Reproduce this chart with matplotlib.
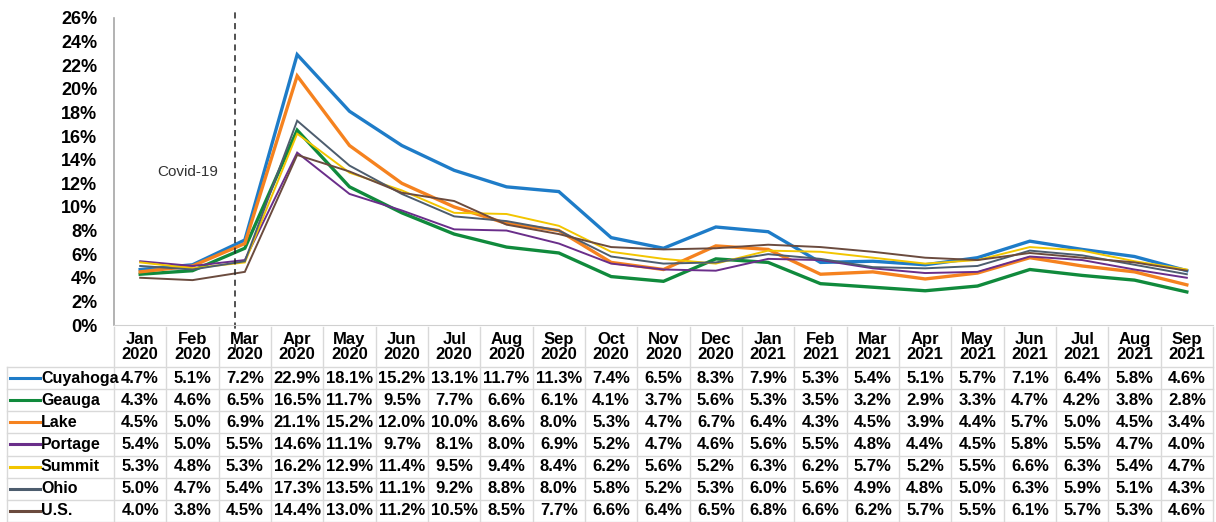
import numpy as np
import matplotlib
matplotlib.use("Agg")
import matplotlib.pyplot as plt

# ── Data ───────────────────────────────────────────────────────
months = ["Jan\n2020", "Feb\n2020", "Mar\n2020", "Apr\n2020", "May\n2020", "Jun\n2020",
          "Jul\n2020", "Aug\n2020", "Sep\n2020", "Oct\n2020", "Nov\n2020", "Dec\n2020",
          "Jan\n2021", "Feb\n2021", "Mar\n2021", "Apr\n2021", "May\n2021", "Jun\n2021",
          "Jul\n2021", "Aug\n2021", "Sep\n2021"]

cuyahoga = [4.7, 5.1, 7.2, 22.9, 18.1, 15.2, 13.1, 11.7, 11.3, 7.4, 6.5, 8.3, 7.9, 5.3, 5.4, 5.1, 5.7, 7.1, 6.4, 5.8, 4.6]
geauga   = [4.3, 4.6, 6.5, 16.5, 11.7, 9.5, 7.7, 6.6, 6.1, 4.1, 3.7, 5.6, 5.3, 3.5, 3.2, 2.9, 3.3, 4.7, 4.2, 3.8, 2.8]
lake     = [4.5, 5.0, 6.9, 21.1, 15.2, 12.0, 10.0, 8.6, 8.0, 5.3, 4.7, 6.7, 6.4, 4.3, 4.5, 3.9, 4.4, 5.7, 5.0, 4.5, 3.4]
portage  = [5.4, 5.0, 5.5, 14.6, 11.1, 9.7, 8.1, 8.0, 6.9, 5.2, 4.7, 4.6, 5.6, 5.5, 4.8, 4.4, 4.5, 5.8, 5.5, 4.7, 4.0]
summit   = [5.3, 4.8, 5.3, 16.2, 12.9, 11.4, 9.5, 9.4, 8.4, 6.2, 5.6, 5.2, 6.3, 6.2, 5.7, 5.2, 5.5, 6.6, 6.3, 5.4, 4.7]
ohio     = [5.0, 4.7, 5.4, 17.3, 13.5, 11.1, 9.2, 8.8, 8.0, 5.8, 5.2, 5.3, 6.0, 5.6, 4.9, 4.8, 5.0, 6.3, 5.9, 5.1, 4.3]
us       = [4.0, 3.8, 4.5, 14.4, 13.0, 11.2, 10.5, 8.5, 7.7, 6.6, 6.4, 6.5, 6.8, 6.6, 6.2, 5.7, 5.5, 6.1, 5.7, 5.3, 4.6]

series_names = ["Cuyahoga", "Geauga", "Lake", "Portage", "Summit", "Ohio", "U.S."]
series_vals  = [cuyahoga, geauga, lake, portage, summit, ohio, us]

covid_x = 1.82   # dashed marker just before March 2020

# ── Styling ────────────────────────────────────────────────────
colours = ["#1E7CC8", "#108A3C", "#F5821F", "#6A2E8A", "#F2C500", "#4D5D6E", "#6B4B3E"]
widths  = [2.4, 2.4, 2.4, 1.4, 1.4, 1.4, 1.4]
FONT = ["Liberation Sans", "DejaVu Sans"]
plt.rcParams["font.family"] = FONT
GRID = "#D9D9D9"

W, H = 1216, 522
fig = plt.figure(figsize=(W / 100, H / 100), dpi=100)

x_left, x_right = 114, 1213
y_top, y_zero = 18, 325
ax = fig.add_axes([x_left / W, 1 - y_zero / H, (x_right - x_left) / W, (y_zero - y_top) / H])

x = np.arange(len(months))
for name, vals, c, lw in zip(series_names, series_vals, colours, widths):
    ax.plot(x, vals, color=c, lw=lw, solid_joinstyle="miter")

ax.set_xlim(-0.5, len(months) - 0.5)
ax.set_ylim(0, 26)
ax.set_yticks(range(0, 27, 2))
ax.set_yticklabels([f"{v}%" for v in range(0, 27, 2)], fontsize=13, fontweight="bold")
ax.tick_params(axis="y", length=0, pad=12)
ax.set_xticks([])
for s in ["top", "right"]:
    ax.spines[s].set_visible(False)
ax.spines["left"].set_color("#A6A6A6")
ax.spines["bottom"].set_color("#D0D0D0")
ax.spines["left"].set_linewidth(1.2)

ax.axvline(covid_x, ymin=-0.08, ymax=1.02, color="#222222", ls=(0, (4, 3)), lw=1.1, clip_on=False)
ax.text(0.9, 13.0, "Covid-19", ha="center", va="center", fontsize=11, color="#333333")

# ── Data table ─────────────────────────────────────────────────
col_w = (x_right - x_left) / len(months)
tab_left = 7
tx0 = -0.5 - (x_left - tab_left) / col_w
tab = fig.add_axes([tab_left / W, 0, (x_right - tab_left) / W, (H - y_zero) / H])
tab.set_xlim(tx0, len(months) - 0.5)
tab.set_ylim(H, y_zero)   # pixel rows, top at y_zero
tab.axis("off")

hdr_bottom = 367
row_h = (H - hdr_bottom) / len(series_names)

# vertical separators
for i in range(len(months) + 1):
    tab.plot([i - 0.5, i - 0.5], [y_zero + 2, H], color=GRID, lw=1, clip_on=False)
tab.plot([tx0, tx0], [hdr_bottom, H], color=GRID, lw=1, clip_on=False)
# horizontal separators
for r in range(len(series_names) + 1):
    yy = hdr_bottom + r * row_h
    tab.plot([tx0, len(months) - 0.5], [yy, yy], color=GRID, lw=1, clip_on=False)

for i, m in enumerate(months):
    tab.text(i, (y_zero + hdr_bottom) / 2 + 1, m, ha="center", va="center",
             fontsize=12, fontweight="bold", linespacing=1.0)

key_len = 30 / col_w
for r, (name, vals, c) in enumerate(zip(series_names, series_vals, colours)):
    yc = hdr_bottom + (r + 0.5) * row_h
    tab.plot([tx0 + 3 / col_w, tx0 + 3 / col_w + key_len], [yc, yc], color=c, lw=2.2, clip_on=False)
    tab.text(tx0 + 34 / col_w, yc, name, ha="left", va="center", fontsize=11.5, fontweight="bold")
    for i, v in enumerate(vals):
        tab.text(i, yc, f"{v:.1f}%", ha="center", va="center", fontsize=12, fontweight="bold")

fig.savefig("out.png", dpi=100)
